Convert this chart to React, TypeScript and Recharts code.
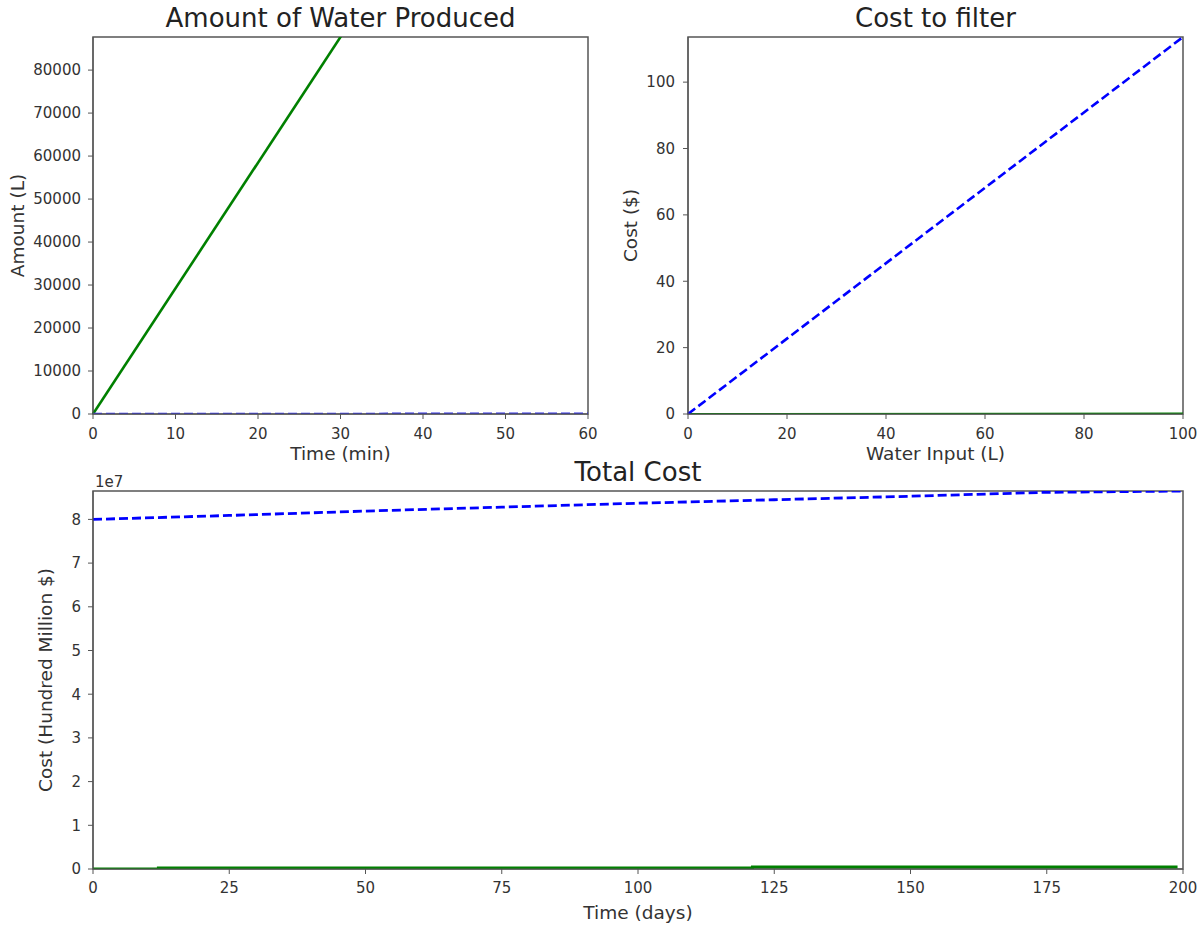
import { LineChart, Line, XAxis, YAxis, ReferenceArea } from 'recharts';

const FONT = 'DejaVu Sans, Verdana, sans-serif';
const AXIS = '#555';
const TEXT = '#333';
const GREEN = '#008000';
const BLUE = '#0000ff';

// Amount of Water Produced
const produceTime = [0, 60];
const producedAmount = [0, 175400];
const producedCost = [0, 70];
const produceXTicks = [0, 10, 20, 30, 40, 50, 60];
const produceYTicks = [0, 10000, 20000, 30000, 40000, 50000, 60000, 70000, 80000];
const produceYMax = 87700;

// Cost to filter
const filterInput = [0, 100];
const filterCost = [0, 113.6];
const filterAmount = [0, 0.2];
const filterXTicks = [0, 20, 40, 60, 80, 100];
const filterYTicks = [0, 20, 40, 60, 80, 100];
const filterYMax = 113.6;

// Total Cost
const totalDays = [0, 25, 50, 75, 100, 125, 150, 175, 200];
const totalCost = [8.0e7, 8.09e7, 8.19e7, 8.28e7, 8.37e7, 8.45e7, 8.53e7, 8.62e7, 8.65e7];
const opDays = [0, 12, 121, 199];
const opCost = [0, 2.5e5, 4.5e5, 4.5e5];
const totalXTicks = [0, 25, 50, 75, 100, 125, 150, 175, 200];
const totalYTicks = [0, 1e7, 2e7, 3e7, 4e7, 5e7, 6e7, 7e7, 8e7];
const totalYMax = 8.65e7;

const pts = (xs: number[], ys: number[]) => xs.map((x, i) => ({ x, y: ys[i] }));

const tickStyle = { fill: TEXT, fontSize: 15, fontFamily: FONT };

export default function App() {
  return (
    <div style={{ position: 'absolute', left: 0, top: 0, width: 1204, height: 925, background: '#fff' }}>
      <div style={{ position: 'absolute', left: 0, top: 0 }}>
        <LineChart width={600} height={470} margin={{ top: 37, right: 12, bottom: 26, left: 0 }}>
          <XAxis type="number" dataKey="x" domain={[0, 60]} ticks={produceXTicks} tick={tickStyle} tickSize={5} tickMargin={9} height={30} stroke={AXIS} />
          <YAxis type="number" dataKey="y" domain={[0, produceYMax]} allowDataOverflow ticks={produceYTicks} tick={tickStyle} tickSize={5} tickMargin={7} width={93} stroke={AXIS} />
          <ReferenceArea x1={0} x2={60} y1={0} y2={produceYMax} fill="none" stroke={AXIS} strokeWidth={1.5} />
          <Line data={pts(produceTime, producedAmount)} dataKey="y" stroke={GREEN} strokeWidth={2.6} dot={false} isAnimationActive={false} />
          <Line data={pts(produceTime, producedCost)} dataKey="y" stroke="#3030e0" strokeWidth={2.4} strokeDasharray="9 4" dot={false} isAnimationActive={false} />
        </LineChart>
      </div>
      <div style={{ position: 'absolute', left: 600, top: 0 }}>
        <LineChart width={604} height={470} margin={{ top: 37, right: 21, bottom: 26, left: 0 }}>
          <XAxis type="number" dataKey="x" domain={[0, 100]} ticks={filterXTicks} tick={tickStyle} tickSize={5} tickMargin={9} height={30} stroke={AXIS} />
          <YAxis type="number" dataKey="y" domain={[0, filterYMax]} allowDataOverflow ticks={filterYTicks} tick={tickStyle} tickSize={5} tickMargin={8} width={88} stroke={AXIS} />
          <ReferenceArea x1={0} x2={100} y1={0} y2={filterYMax} fill="none" stroke={AXIS} strokeWidth={1.5} />
          <Line data={pts(filterInput, filterAmount)} dataKey="y" stroke={GREEN} strokeWidth={1.8} dot={false} isAnimationActive={false} />
          <Line data={pts(filterInput, filterCost)} dataKey="y" stroke={BLUE} strokeWidth={2.6} strokeDasharray="9 4" dot={false} isAnimationActive={false} />
        </LineChart>
      </div>
      <div style={{ position: 'absolute', left: 0, top: 460 }}>
        <LineChart width={1204} height={465} margin={{ top: 31, right: 21, bottom: 26, left: 0 }}>
          <XAxis type="number" dataKey="x" domain={[0, 200]} ticks={totalXTicks} tick={tickStyle} tickSize={5} tickMargin={8} height={30} stroke={AXIS} />
          <YAxis type="number" dataKey="y" domain={[0, totalYMax]} allowDataOverflow ticks={totalYTicks} tickFormatter={(v: number) => String(v / 1e7)} tick={tickStyle} tickSize={5} tickMargin={7} width={93} stroke={AXIS} />
          <ReferenceArea x1={0} x2={200} y1={0} y2={totalYMax} fill="none" stroke={AXIS} strokeWidth={1.5} />
          <Line data={pts(opDays, opCost)} dataKey="y" type="stepAfter" stroke={GREEN} strokeWidth={3} dot={false} isAnimationActive={false} />
          <Line data={pts(totalDays, totalCost)} dataKey="y" stroke={BLUE} strokeWidth={2.8} strokeDasharray="9 4" dot={false} isAnimationActive={false} />
        </LineChart>
      </div>
      <svg width={1204} height={925} style={{ position: 'absolute', left: 0, top: 0, pointerEvents: 'none' }} fontFamily={FONT}>
        <text x={340.5} y={27} textAnchor="middle" fontSize={26} fill="#222">Amount of Water Produced</text>
        <text x={935.5} y={27} textAnchor="middle" fontSize={26} fill="#222">Cost to filter</text>
        <text x={638} y={481} textAnchor="middle" fontSize={26} fill="#222">Total Cost</text>
        <text x={340.5} y={460} textAnchor="middle" fontSize={18.5} fill={TEXT}>Time (min)</text>
        <text x={935.5} y={460} textAnchor="middle" fontSize={18.5} fill={TEXT}>Water Input (L)</text>
        <text x={638} y={919} textAnchor="middle" fontSize={18.5} fill={TEXT}>Time (days)</text>
        <text transform="translate(24,225.5) rotate(-90)" textAnchor="middle" fontSize={18.5} fill={TEXT}>Amount (L)</text>
        <text transform="translate(637,225.5) rotate(-90)" textAnchor="middle" fontSize={18.5} fill={TEXT}>Cost ($)</text>
        <text transform="translate(52,680) rotate(-90)" textAnchor="middle" fontSize={18.5} fill={TEXT}>Cost (Hundred Million $)</text>
        <text x={95} y={487} fontSize={15} fill={TEXT}>1e7</text>
      </svg>
    </div>
  );
}
